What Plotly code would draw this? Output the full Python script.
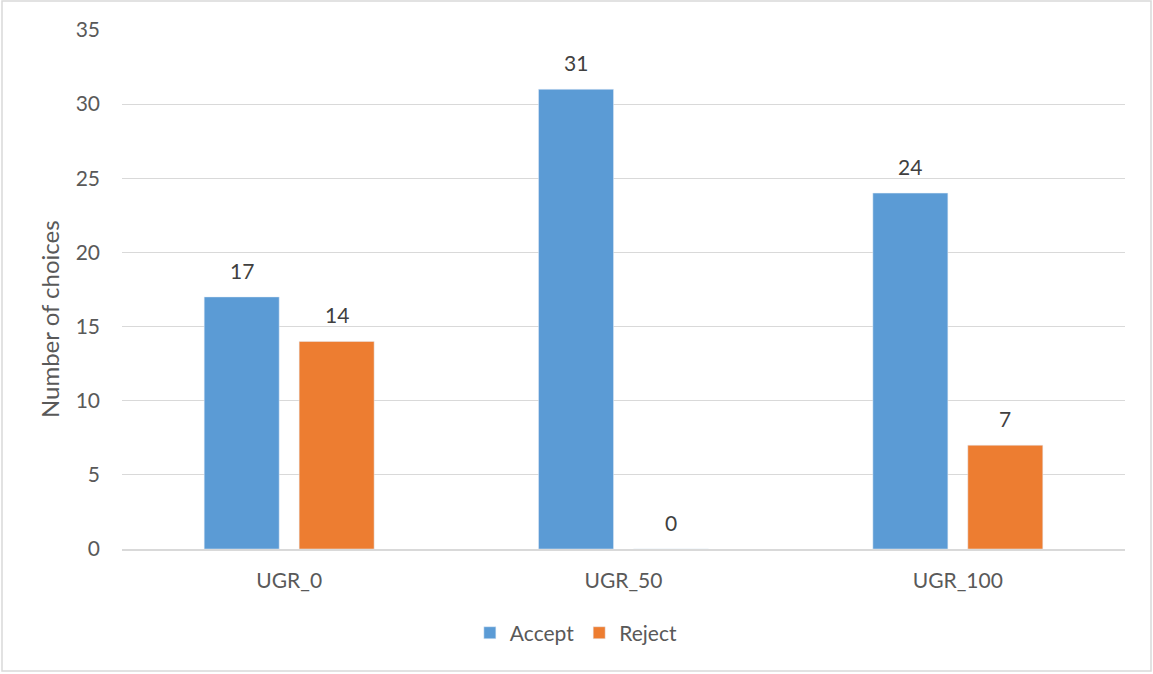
import plotly.graph_objects as go

categories = ["UGR_0", "UGR_50", "UGR_100"]
accept = [17, 31, 24]
reject = [14, 0, 7]
y_ticks = [0, 5, 10, 15, 20, 25, 30, 35]

text_color = "#595959"
label_color = "#404040"
font_family = "Lato, Open Sans, sans-serif"

fig = go.Figure()
fig.add_trace(go.Bar(name="Accept", x=categories, y=accept, marker=dict(color="#5B9BD5")))
fig.add_trace(go.Bar(name="Reject", x=categories, y=reject, marker=dict(color="#ED7D31")))

# value labels above each bar, placed with the group offset of its series
annotations = []
for series, shift in ((accept, -0.142), (reject, 0.142)):
    for i, v in enumerate(series):
        annotations.append(dict(
            x=i + shift, y=v, xref="x", yref="y", text=str(v), showarrow=False,
            yanchor="bottom", yshift=12, font=dict(size=21, color=label_color),
        ))

# vertical axis title
annotations.append(dict(
    x=-73/1003, y=0.443, xref="paper", yref="paper", text="Number of choices",
    textangle=-90, showarrow=False, xanchor="center", yanchor="middle",
    font=dict(size=24, color=text_color),
))

fig.update_layout(
    width=1153, height=674,
    margin=dict(l=122, r=28, t=30, b=125),
    paper_bgcolor="white", plot_bgcolor="white",
    font=dict(family=font_family, size=21, color=text_color),
    barmode="group", bargap=0.432, bargroupgap=0.21,
    legend=dict(orientation="h", x=0.453, xanchor="center", y=-0.162, yanchor="middle",
                itemwidth=30, font=dict(size=21, color=text_color)),
    showlegend=True,
    annotations=annotations,
    shapes=[dict(type="rect", xref="paper", yref="paper",
                 x0=-120/1003, x1=1+26/1003, y0=-122/519, y1=1+29/519,
                 line=dict(color="#D9D9D9", width=1.5), fillcolor="rgba(0,0,0,0)")],
)
fig.update_xaxes(
    showline=True, linecolor="#D9D9D9", linewidth=1.5,
    ticks="", ticklabelstandoff=12, tickfont=dict(size=21, color=text_color),
)
fig.update_yaxes(
    range=[0, 35], tickvals=y_ticks,
    showgrid=True, gridcolor="#D9D9D9", gridwidth=1,
    zeroline=False, showline=False, ticks="",
    ticklabelstandoff=21,
    tickfont=dict(size=21, color=text_color),
)

fig.write_html("out.html")
